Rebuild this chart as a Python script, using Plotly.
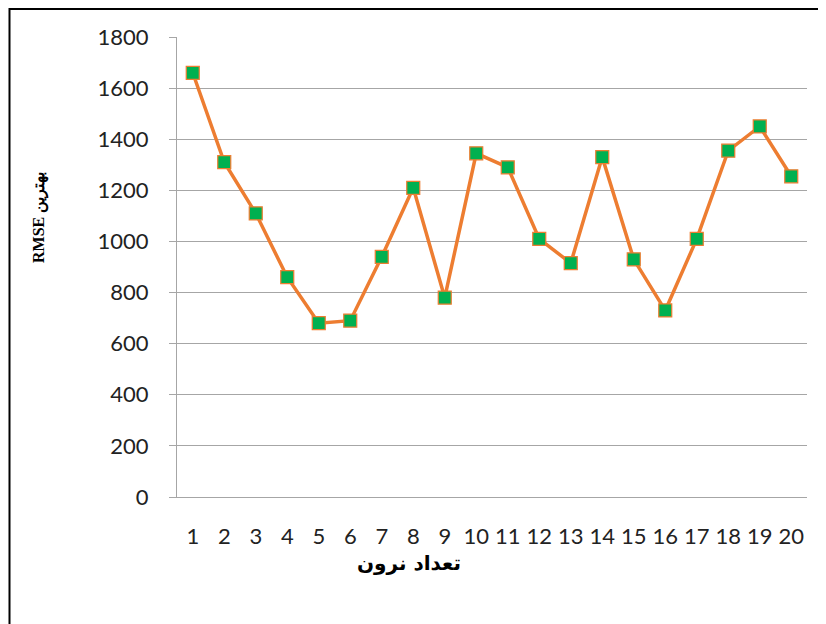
import plotly.graph_objects as go

categories = [str(i) for i in range(1, 21)]
rmse_values = [1660, 1310, 1110, 860, 680, 690, 940, 1210, 780, 1345,
               1290, 1010, 915, 1330, 930, 730, 1010, 1355, 1450, 1255]
y_ticks = [0, 200, 400, 600, 800, 1000, 1200, 1400, 1600, 1800]
x_title = "تعداد نرون"
y_title = "RMSE \u0628\u0647\u062a\u0631\u06cc\u0646"

fig = go.Figure()
fig.add_trace(go.Scatter(
    x=categories, y=rmse_values, mode="lines+markers",
    line=dict(color="#ED7D31", width=3.5),
    marker=dict(symbol="square", size=13, color="#00B050",
                line=dict(color="#ED7D31", width=1.2)),
    showlegend=False, cliponaxis=False,
))

grid = "#A6A6A6"
# page body has an 8px margin; figure sized so the plot lands at x 177-807, y 37-497
fig.update_layout(
    width=818, height=616,
    margin=dict(l=169, r=19, t=29, b=127),
    paper_bgcolor="white", plot_bgcolor="white",
    font=dict(family="Lato, Open Sans, sans-serif", size=22, color="#222222"),
    xaxis=dict(type="category", showgrid=False, showline=True, linecolor=grid,
               linewidth=1.3, ticks="", ticklabelstandoff=19,
               tickfont=dict(size=22), range=[-0.5, 19.5]),
    yaxis=dict(range=[0, 1800], tickvals=y_ticks, showgrid=True, gridcolor=grid,
               gridwidth=1.3, showline=True, linecolor=grid, linewidth=1.3,
               ticks="outside", ticklen=7, tickcolor=grid, tickwidth=1.3,
               ticklabelstandoff=16, tickfont=dict(size=22), zeroline=False),
    annotations=[
        dict(text="<b>" + x_title + "</b>", xref="paper", yref="paper",
             x=(409 - 177) / 630, y=(497 - 563) / 460, showarrow=False,
             font=dict(family="DejaVu Sans", size=20, color="black"),
             xanchor="center", yanchor="middle"),
        dict(text="<b>" + y_title + "</b>", xref="paper", yref="paper",
             x=(40 - 177) / 630, y=(497 - 218) / 460, showarrow=False,
             textangle=-90,
             font=dict(family="Liberation Serif, DejaVu Serif", size=16, color="black"),
             xanchor="center", yanchor="middle"),
    ],
    shapes=[
        dict(type="rect", xref="paper", yref="paper",
             x0=(9.5 - 177) / 630, x1=1.2, y0=-0.5, y1=(497 - 9) / 460,
             line=dict(color="black", width=2), fillcolor="rgba(0,0,0,0)",
             layer="below"),
    ],
)

fig.write_html("out.html")
